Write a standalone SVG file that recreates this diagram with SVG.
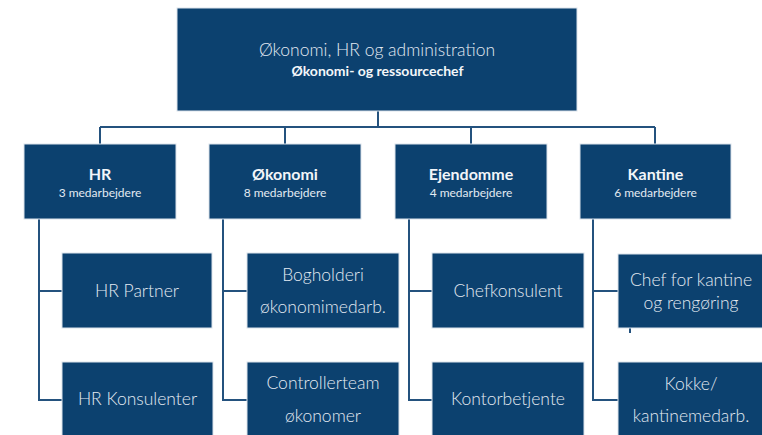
<svg xmlns="http://www.w3.org/2000/svg" width="762" height="435" viewBox="0 0 762 435">
<style>
.box{fill:#0c416f;stroke:#dbe3ec;stroke-width:1}
.t{font-family:Lato,"Liberation Sans",sans-serif;fill:#e3eaf2;text-anchor:middle}
.big{font-size:17.5px;font-weight:300}
.title{font-size:16px;font-weight:bold;fill:#f2f5f9}
.sub{font-size:12px}
.leaf{font-size:17.5px;font-weight:300}
.con{stroke:#24527e;stroke-width:2;fill:none}
</style>
<rect width="762" height="435" fill="#ffffff"/>
<g id="connectors">
<path class="con" d="M378 111V127M100 127H655M100 127V144M285 127V144M471 127V144M655 127V144"/>
<path class="con" d="M39 219V400H62M39 291H62"/>
<path class="con" d="M223 219V400H247M223 291H247"/>
<path class="con" d="M409 219V400H432M409 291H432"/>
<path class="con" d="M593 219V400H618M593 291H618"/>
<path class="con" d="M630 328V333"/>
</g>
<g id="top">
<rect class="box" x="177" y="8" width="400" height="103"/>
<text class="t big" x="377" y="56">Økonomi, HR og administration</text>
<text class="t" x="377.5" y="76" style="font-size:14px;font-weight:bold;fill:#f4f7fa">Økonomi- og ressourcechef</text>
</g>
<g id="hr">
<rect class="box" x="24" y="144" width="152" height="75"/>
<text class="t title" x="100" y="180">HR</text>
<text class="t sub" x="100" y="197">3 medarbejdere</text>
</g>
<g id="okonomi">
<rect class="box" x="209" y="144" width="152" height="75"/>
<text class="t title" x="285" y="180">Økonomi</text>
<text class="t sub" x="285" y="197">8 medarbejdere</text>
</g>
<g id="ejendomme">
<rect class="box" x="395" y="144" width="152" height="75"/>
<text class="t title" x="471" y="180">Ejendomme</text>
<text class="t sub" x="471" y="197">4 medarbejdere</text>
</g>
<g id="kantine">
<rect class="box" x="580" y="144" width="151" height="75"/>
<text class="t title" x="655.5" y="180">Kantine</text>
<text class="t sub" x="655.5" y="197">6 medarbejdere</text>
</g>
<g id="hr-partner">
<rect class="box" x="62" y="253" width="150" height="75"/>
<text class="t leaf" x="137" y="297">HR Partner</text>
</g>
<g id="hr-konsulenter">
<rect class="box" x="62" y="362" width="151" height="80"/>
<text class="t leaf" x="137.5" y="405">HR Konsulenter</text>
</g>
<g id="bogholderi">
<rect class="box" x="247" y="253" width="152" height="75"/>
<text class="t leaf" x="323" y="281">Bogholderi</text>
<text class="t leaf" x="323" y="313">økonomimedarb.</text>
</g>
<g id="controllerteam">
<rect class="box" x="247" y="362" width="152" height="80"/>
<text class="t leaf" x="323" y="389">Controllerteam</text>
<text class="t leaf" x="323" y="422">økonomer</text>
</g>
<g id="chefkonsulent">
<rect class="box" x="432" y="253" width="152" height="75"/>
<text class="t leaf" x="508" y="297">Chefkonsulent</text>
</g>
<g id="kontorbetjente">
<rect class="box" x="432" y="362" width="152" height="80"/>
<text class="t leaf" x="508" y="405">Kontorbetjente</text>
</g>
<g id="chef-kantine">
<rect class="box" x="618" y="254" width="152" height="74"/>
<text class="t leaf" x="691" y="286">Chef for kantine</text>
<text class="t leaf" x="691" y="309">og rengøring</text>
</g>
<g id="kokke">
<rect class="box" x="618" y="362" width="152" height="80"/>
<text class="t leaf" x="691" y="390">Kokke/</text>
<text class="t leaf" x="691" y="422">kantinemedarb.</text>
</g>
</svg>
